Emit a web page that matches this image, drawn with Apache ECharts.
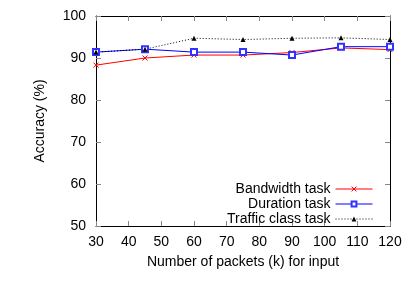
<!DOCTYPE html>
<html>
<head>
<meta charset="utf-8">
<script src="https://cdn.jsdelivr.net/npm/echarts@6/dist/echarts.min.js"></script>
<style>html,body{margin:0;padding:0;background:#fff}#c{width:415px;height:299px}</style>
</head>
<body>
<div id="c"></div>
<script>
const packets = [30, 45, 60, 75, 90, 105, 120];
const bandwidth = [88.3, 90.0, 90.7, 90.7, 91.3, 92.4, 92.0];
const duration = [91.4, 92.1, 91.4, 91.4, 90.7, 92.7, 92.7];
const traffic = [91.4, 92.1, 94.7, 94.4, 94.7, 94.8, 94.4];
const seriesNames = ['Bandwidth task', 'Duration task', 'Traffic class task'];

const FONT = 'Liberation Sans';
const chart = echarts.init(document.getElementById('c'), null, {renderer: 'canvas'});
const pair = arr => packets.map((x, i) => [x, arr[i]]);
const crossPath = 'path://M0,0L10,10M10,0L0,10';

const axisCommon = {
  axisLine: {show: true, onZero: false, lineStyle: {color: '#000', width: 1}},
  axisTick: {show: true, inside: true, length: 5, lineStyle: {color: '#888', width: 1}},
  splitLine: {show: false}
};

chart.setOption({
  animation: false,
  backgroundColor: '#fff',
  textStyle: {fontFamily: FONT},
  grid: {left: 96, right: 25, top: 16, bottom: 73, containLabel: false},
  xAxis: [
    Object.assign({
      type: 'value', min: 30, max: 120, interval: 10, position: 'bottom',
      name: 'Number of packets (k) for input', nameLocation: 'middle', nameGap: 29,
      nameTextStyle: {fontSize: 14, color: '#000', fontFamily: FONT},
      axisLabel: {fontSize: 14, color: '#000', margin: 9, fontFamily: FONT}
    }, axisCommon),
    Object.assign({
      type: 'value', min: 30, max: 120, interval: 10, position: 'top',
      axisLabel: {show: false}
    }, axisCommon)
  ],
  yAxis: [
    Object.assign({
      type: 'value', min: 50, max: 100, interval: 10, position: 'left',
      name: 'Accuracy (%)', nameLocation: 'middle', nameGap: 49,
      nameTextStyle: {fontSize: 14, color: '#000', fontFamily: FONT},
      axisLabel: {fontSize: 14, color: '#000', margin: 10, fontFamily: FONT}
    }, axisCommon),
    Object.assign({
      type: 'value', min: 50, max: 100, interval: 10, position: 'right',
      axisLabel: {show: false}
    }, axisCommon)
  ],
  legend: {
    data: seriesNames,
    orient: 'vertical',
    align: 'right',
    right: 42,
    top: 182,
    itemWidth: 37,
    itemHeight: 6,
    itemGap: 1,
    padding: 0,
    lineStyle: {width: 1},
    itemStyle: {borderWidth: 1},
    textStyle: {fontSize: 14, lineHeight: 12.5, color: '#000', fontFamily: FONT, padding: [0, 0, 0, 0]}
  },
  series: [
    {
      name: seriesNames[0], type: 'line', data: pair(bandwidth),
      symbol: crossPath, symbolSize: 5,
      lineStyle: {color: '#ff0000', width: 1},
      itemStyle: {color: '#ff0000', borderColor: '#ff0000', borderWidth: 1}
    },
    {
      name: seriesNames[1], type: 'line', data: pair(duration),
      symbol: 'emptyRect', symbolSize: 6,
      lineStyle: {color: '#0000ff', width: 1},
      itemStyle: {color: '#3333ff', borderColor: '#3333ff', borderWidth: 1}
    },
    {
      name: seriesNames[2], type: 'line', data: pair(traffic),
      symbol: 'triangle', symbolSize: 5,
      lineStyle: {color: '#000', width: 1, type: [1, 2]},
      itemStyle: {color: '#000'}
    }
  ]
});
</script>
</body>
</html>
